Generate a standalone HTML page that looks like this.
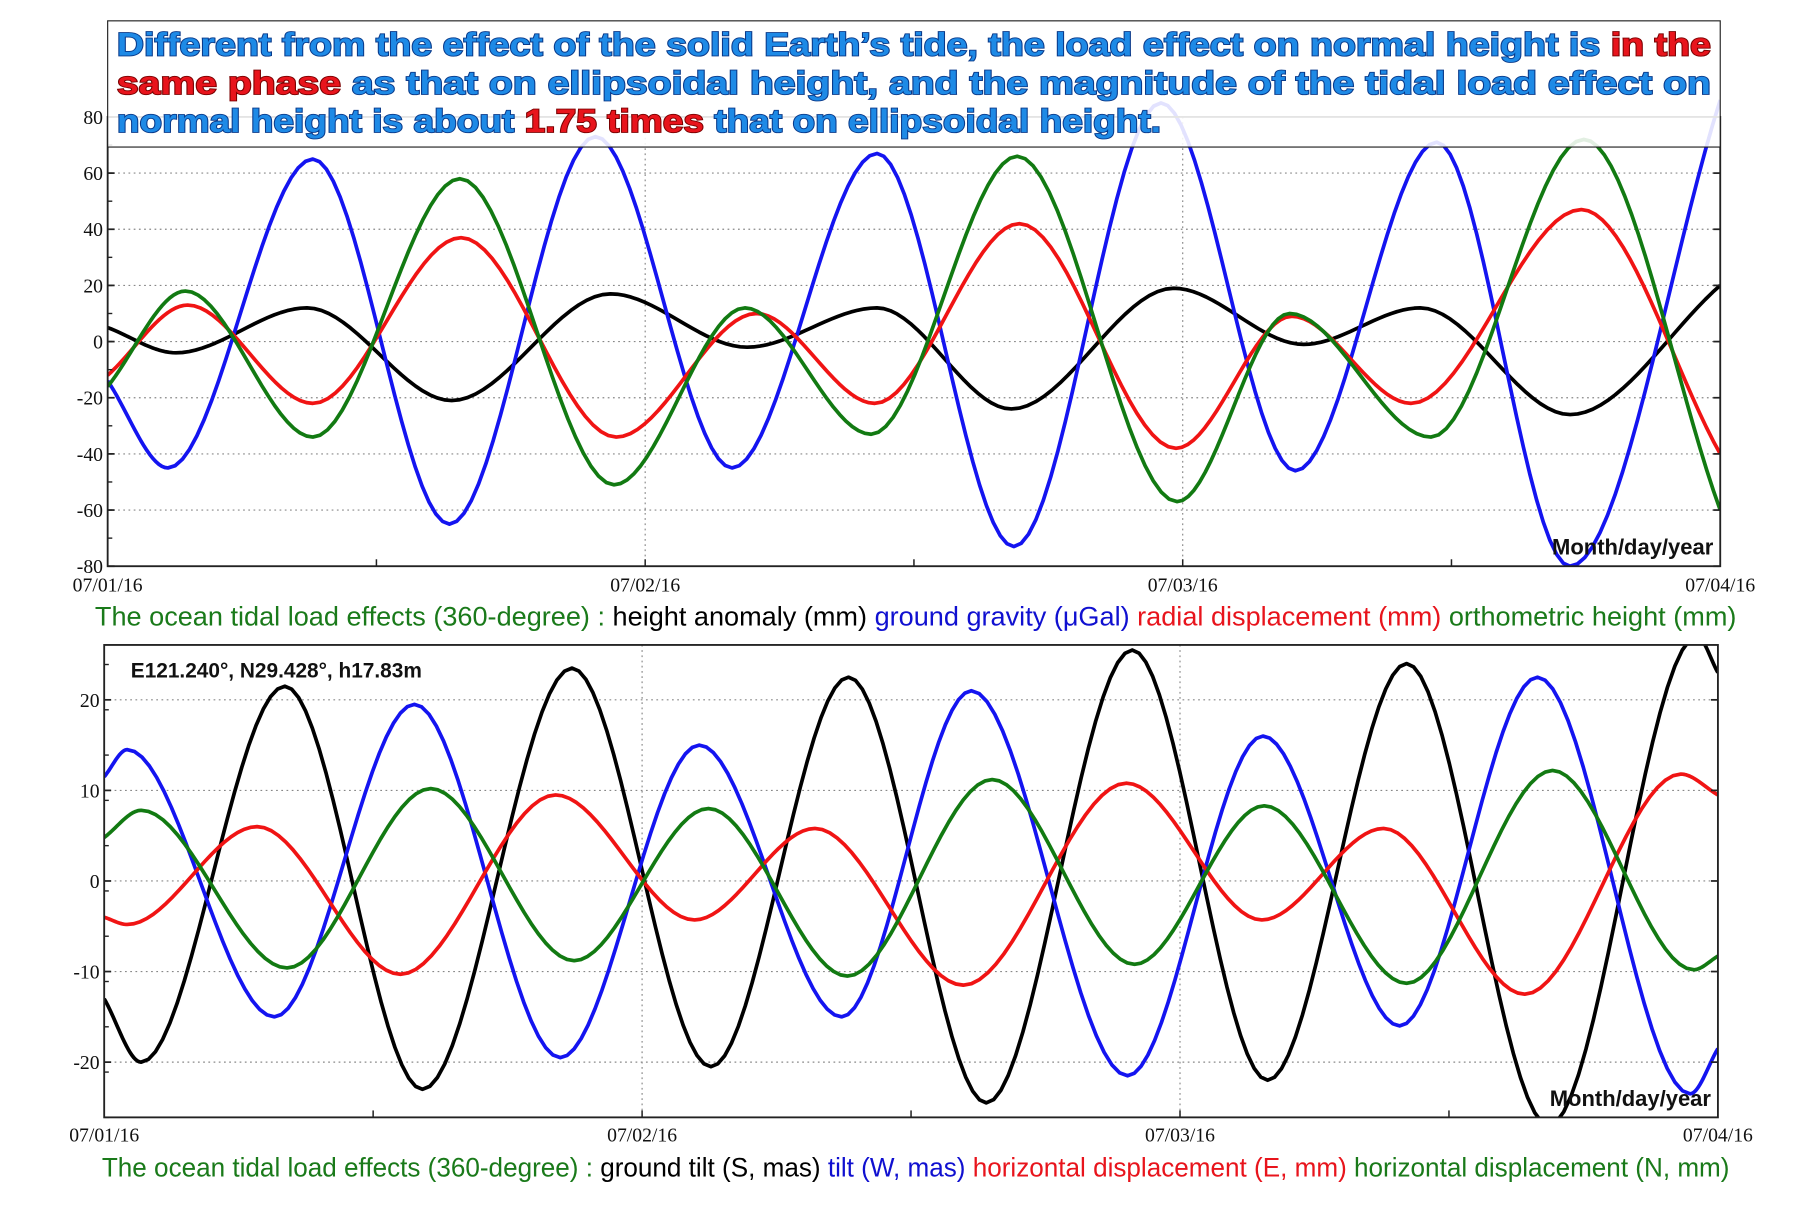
<!DOCTYPE html>
<html><head><meta charset="utf-8"><style>
html,body{margin:0;padding:0;background:#fff;width:1814px;height:1210px;overflow:hidden}
svg{display:block}
.tick{font-family:"Liberation Serif",serif;font-size:17px;fill:#111}
.leg{font-family:"Liberation Sans",sans-serif;font-size:23px}
</style></head><body>
<svg id="fig" width="1814" height="1210" viewBox="0 0 1567 1045" preserveAspectRatio="none" xmlns="http://www.w3.org/2000/svg">
<defs>
<clipPath id="clipTop"><rect x="93" y="60" width="1393" height="429"/></clipPath>
<clipPath id="clipBot"><rect x="90" y="557" width="1394" height="408"/></clipPath>
</defs>
<g id="topChart"></g>
<g id="botChart"></g>
<g>
<rect x="93" y="18" width="1393" height="109" fill="#fff" fill-opacity="0.88" stroke="#222" stroke-width="1"/>
<g font-family="Liberation Sans, sans-serif" font-weight="bold" font-size="28" stroke="#0a3a8a" stroke-width="1.6" paint-order="stroke" fill="#1e8ae6">
<text x="101" y="48" textLength="1377" lengthAdjust="spacingAndGlyphs">Different from the effect of the solid Earth’s tide, the load effect on normal height is <tspan fill="#e8141c" stroke="#7a0000">in the</tspan></text>
<text x="101" y="81" textLength="1377" lengthAdjust="spacingAndGlyphs"><tspan fill="#e8141c" stroke="#7a0000">same phase</tspan> as that on ellipsoidal height, and the magnitude of the tidal load effect on</text>
<text x="101" y="114" textLength="902" lengthAdjust="spacingAndGlyphs">normal height is about <tspan fill="#e8141c" stroke="#7a0000">1.75 times</tspan> that on ellipsoidal height.</text>
</g></g>
<text class="leg" x="82" y="540" textLength="1418" lengthAdjust="spacingAndGlyphs"><tspan fill="#1a7a1a">The ocean tidal load effects (360-degree) :</tspan><tspan fill="#000"> height anomaly (mm) </tspan><tspan fill="#1010d0"> ground gravity (μGal)</tspan><tspan fill="#e8141c"> radial displacement (mm)</tspan><tspan fill="#1a7a1a"> orthometric height (mm)</tspan></text>
<text class="leg" x="88" y="1016" textLength="1406" lengthAdjust="spacingAndGlyphs"><tspan fill="#1a7a1a">The ocean tidal load effects (360-degree) :</tspan><tspan fill="#000"> ground tilt (S, mas)</tspan><tspan fill="#1010d0"> tilt (W, mas) </tspan><tspan fill="#e8141c"> horizontal displacement (E, mm)</tspan><tspan fill="#1a7a1a"> horizontal displacement (N, mm)</tspan></text>
<text x="113" y="585" font-family="Liberation Sans, sans-serif" font-weight="bold" font-size="18" fill="#111">E121.240°, N29.428°, h17.83m</text>
</svg>
<script>
// ---- top chart data (hours from 07/01/16 00:00, values) ----
const topBlackT=[0,3.05,8.9,15.36,22.45,28.55,34.35,40.35,47.6,53.4,58.6,65.3,72];
const topBlackV=[5,-4,12,-21,17,-2,12,-24,19,-1,12,-26,20];
const topBlueT=[0,2.69,9.16,15.26,21.78,27.88,34.35,40.46,47.03,53.03,59.34,65.29,72];
const topBlueV=[-14,-45,65,-65,73,-45,67,-73,85,-46,71,-80,86];
const topRedT=[0,3.57,9.16,15.78,22.71,28.97,34.25,40.71,47.7,52.87,58.2,65.8,72];
const topRedV=[-12,13,-22,37,-34,10,-22,42,-38,9,-22,47,-40];
const topGreenT=[0,3.47,9.16,15.73,22.61,28.45,34.09,40.61,47.75,52.77,59.08,65.91,72];
const topGreenV=[-16,18,-34,58,-51,12,-33,66,-57,10,-34,72,-60];
const topYTicks=[80,60,40,20,0,-20,-40,-60,-80];
// ---- bottom chart data ----
const botBlackT=[0,1.65,8.06,14.2,20.87,27.07,33.21,39.36,45.87,51.91,58.11,64.46,71.07,72];
const botBlackV=[-13,-20,21.5,-23,23.5,-20.5,22.5,-24.5,25.5,-22,24,-27,27,23];
const botBlueT=[0,1.03,7.59,13.84,20.35,26.55,32.9,38.69,45.66,51.7,57.8,63.95,70.76,72];
const botBlueV=[11.5,14.5,-15,19.5,-19.5,15,-15,21,-21.5,16,-16,22.5,-23.5,-18.5];
const botRedT=[0,1.03,6.82,13.22,20.14,26.34,31.71,38.33,45.61,51.65,57.08,63.38,70.35,72];
const botRedV=[-4,-4.8,6,-10.3,9.5,-4.3,5.8,-11.5,10.8,-4.3,5.8,-12.5,11.8,9.5];
const botGreenT=[0,1.65,8.16,14.57,20.97,26.96,33.16,39.62,45.97,51.76,58.11,64.62,70.92,72];
const botGreenV=[4.8,7.8,-9.6,10.2,-8.8,8,-10.5,11.2,-9.2,8.3,-11.3,12.2,-9.8,-8.3];
const botYTicks=[20,10,0,-10,-20];
const dateLabels=["07/01/16","07/02/16","07/03/16","07/04/16"];

const NS="http://www.w3.org/2000/svg";
function mk(tag,attrs,parent){const e=document.createElementNS(NS,tag);for(const k in attrs)e.setAttribute(k,attrs[k]);parent.appendChild(e);return e;}

function monoPath(T,V,xs,ys){
  const n=T.length,d=[],m=[];
  for(let i=0;i<n-1;i++)d.push((V[i+1]-V[i])/(T[i+1]-T[i]));
  for(let i=0;i<n;i++){
    if(i===0)m.push(d[0]);else if(i===n-1)m.push(d[n-2]);
    else m.push(d[i-1]*d[i]<=0?0:(d[i-1]+d[i])/2);
  }
  let p="";
  for(let i=0;i<n-1;i++){
    const h=T[i+1]-T[i];
    for(let k=0;k<=20;k++){
      if(i>0&&k===0)continue;
      const s=k/20,h00=2*s*s*s-3*s*s+1,h10=s*s*s-2*s*s+s,h01=-2*s*s*s+3*s*s,h11=s*s*s-s*s;
      const v=h00*V[i]+h10*h*m[i]+h01*V[i+1]+h11*h*m[i+1];
      const t=T[i]+s*h;
      p+=(p?"L":"M")+xs(t).toFixed(2)+","+ys(v).toFixed(2);
    }
  }
  return p;
}

function chart(g,cfg){
  const {x0,x1,yTop,yBot,vMax,vMin,ticks,minor,clip,series,labelY}=cfg;
  const xs=t=>x0+(x1-x0)*t/72;
  const ys=v=>yTop+(vMax-v)/(vMax-vMin)*(yBot-yTop);
  for(const v of ticks){
    if(v===vMax||v===vMin)continue;
    const l=mk("line",{x1:x0,x2:x1,y1:ys(v),y2:ys(v),stroke:"#888","stroke-width":1,"stroke-dasharray":"1.5,3"},g);
    
    
  }
  for(let d=1;d<3;d++){
    const l=mk("line",{x1:xs(d*24),x2:xs(d*24),y1:yTop,y2:yBot,stroke:"#888","stroke-width":1,"stroke-dasharray":"1.5,3"},g);
    
    
  }
  const sg=mk("g",{"clip-path":"url(#"+clip+")"},g);
  for(const s of series){
    const p=mk("path",{d:monoPath(s.T,s.V,xs,ys),fill:"none",stroke:s.c,"stroke-width":3.2,"stroke-linejoin":"round"},sg);
    
    
  }
  const fr=mk("rect",{x:x0,y:yTop,width:x1-x0,height:yBot-yTop,fill:"none",stroke:"#222","stroke-width":1.6},g);
  
  
  for(const v of ticks){
    const y=ys(v);
    mk("line",{x1:x0,x2:x0+6,y1:y,y2:y,stroke:"#222","stroke-width":1.5},g);
    mk("line",{x1:x1,x2:x1-6,y1:y,y2:y,stroke:"#222","stroke-width":1.5},g);
    const t=mk("text",{x:x0-4,y:y+6,"text-anchor":"end",class:"tick"},g);
    t.textContent=String(v);
    
    
  }
  for(let v=vMin;v<=vMax;v+=minor){
    const y=ys(v);
    mk("line",{x1:x0,x2:x0+4,y1:y,y2:y,stroke:"#222","stroke-width":1.2},g);
  }
  for(let h=12;h<72;h+=12){
    mk("line",{x1:xs(h),x2:xs(h),y1:yBot,y2:yBot-6,stroke:"#222","stroke-width":1.3},g);
  }
  dateLabels.forEach((lab,i)=>{
    const t=mk("text",{x:xs(i*24),y:labelY,"text-anchor":"middle",class:"tick"},g);
    t.textContent=lab;
    
    
  });
  const a=mk("text",{x:x1-6,y:yBot-10,"text-anchor":"end","font-family":"Liberation Sans, sans-serif","font-weight":"bold","font-size":"19",fill:"#111"},g);
  a.textContent="Month/day/year";
  
  
}

chart(document.getElementById("topChart"),{x0:93,x1:1486,yTop:101,yBot:489,vMax:80,vMin:-80,ticks:topYTicks,minor:10,clip:"clipTop",labelY:511,
  series:[{T:topBlackT,V:topBlackV,c:"#000",n:"height-anomaly-line"},{T:topBlueT,V:topBlueV,c:"#1414f0",n:"ground-gravity-line"},{T:topRedT,V:topRedV,c:"#f01414",n:"radial-displacement-line"},{T:topGreenT,V:topGreenV,c:"#127a12",n:"orthometric-height-line"}]});
chart(document.getElementById("botChart"),{x0:90,x1:1484,yTop:557,yBot:965,vMax:26.06,vMin:-26.1,ticks:botYTicks,minor:5,clip:"clipBot",labelY:986,
  series:[{T:botBlackT,V:botBlackV,c:"#000",n:"tilt-s-line"},{T:botBlueT,V:botBlueV,c:"#1414f0",n:"tilt-w-line"},{T:botRedT,V:botRedV,c:"#f01414",n:"horizontal-e-line"},{T:botGreenT,V:botGreenV,c:"#127a12",n:"horizontal-n-line"}]});
</script>
</body></html>
